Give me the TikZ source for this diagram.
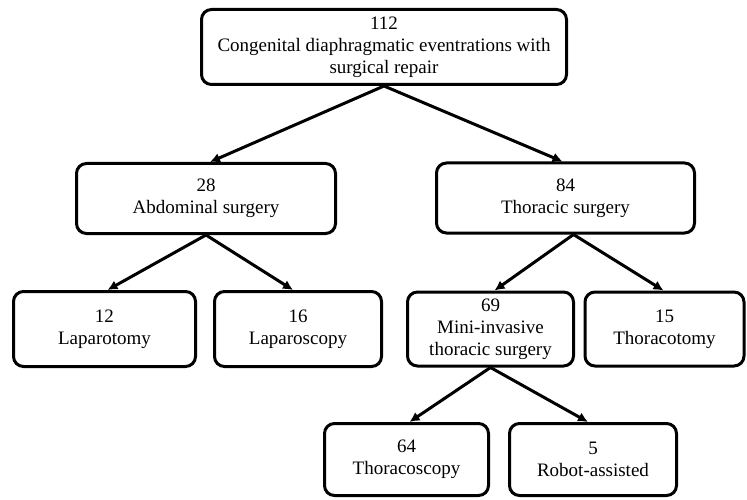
\documentclass[tikz,border=0pt]{standalone}
\usepackage{fontspec}
\setmainfont{Liberation Serif}
\usetikzlibrary{arrows.meta,calc}
\begin{document}
\begin{tikzpicture}[x=1pt,y=-1pt,
  box/.style={draw=black,line width=3pt,rounded corners=10pt,fill=white,
    align=center,inner sep=0pt,font=\fontsize{19}{22}\selectfont},
  conn/.style={line width=3pt,-{Latex[length=10pt,width=10pt]}}]
\useasboundingbox (0,0) rectangle (747,500);
\node[box,minimum width=365pt,minimum height=75pt] (top) at (384,47) {112\\Congenital diaphragmatic eventrations with\\surgical repair};
\node[box,minimum width=259pt,minimum height=70pt] (abd) at (206,198.5) {28\\Abdominal surgery};
\node[box,minimum width=258pt,minimum height=70pt] (tho) at (565.5,198) {84\\Thoracic surgery};
\node[box,minimum width=182pt,minimum height=75pt] (lapt) at (104.5,329) {12\\Laparotomy};
\node[box,minimum width=167pt,minimum height=75pt] (lapc) at (298,329) {16\\Laparoscopy};
\node[box,minimum width=166pt,minimum height=74pt] (mini) at (490.5,329) {69\\Mini-invasive\\thoracic surgery};
\node[box,minimum width=159pt,minimum height=74pt] (thct) at (664.5,329) {15\\Thoracotomy};
\node[box,minimum width=164pt,minimum height=72pt] (thcs) at (406.5,459.5) {64\\Thoracoscopy};
\node[box,minimum width=167pt,minimum height=72pt] (robot) at (593,459.5) {5\\Robot-assisted};
\draw[conn] (top.south) -- ($(abd.north)+(4,0)$);
\draw[conn] (top.south) -- ($(tho.north)+(-3,0)$);
\draw[conn] (abd.south) -- ($(lapt.north)+(3,0)$);
\draw[conn] (abd.south) -- ($(lapc.north)+(-5,0)$);
\draw[conn] ($(tho.south)+(8,0)$) -- ($(mini.north)+(4,0)$);
\draw[conn] ($(tho.south)+(8,0)$) -- ($(thct.north)+(-1,0)$);
\draw[conn] (mini.south) -- ($(thcs.north)+(3,0)$);
\draw[conn] (mini.south) -- ($(robot.north)+(-5,0)$);
\end{tikzpicture}
\end{document}
